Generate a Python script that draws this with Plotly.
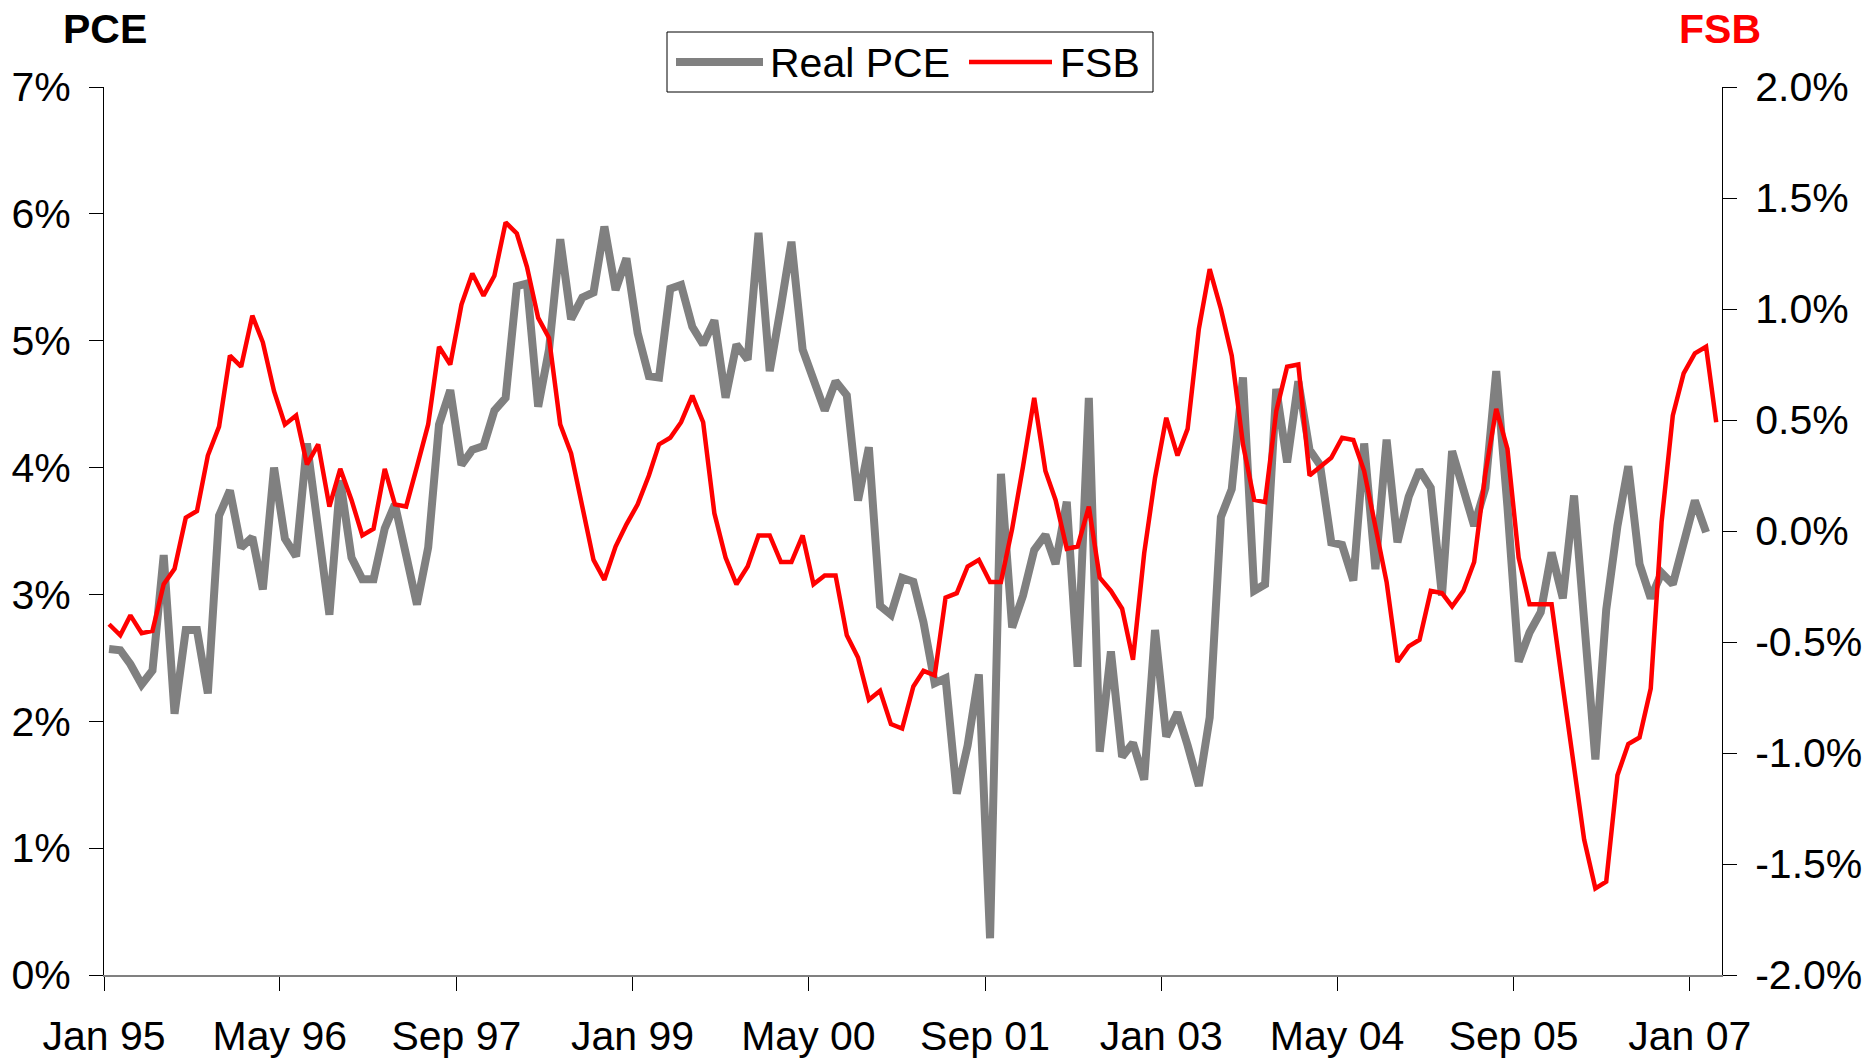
import pandas as pd
import plotly.graph_objects as go

# ---------------- data (monthly, Jan 1995 onwards) ----------------
start_month = "1995-01-01"

real_pce = [
    2.57, 2.56, 2.45, 2.29, 2.40, 3.31, 2.06, 2.72, 2.72, 2.22,
    3.62, 3.82, 3.37, 3.45, 3.04, 4.00, 3.44, 3.30, 4.19, 3.54,
    2.84, 3.90, 3.29, 3.12, 3.12, 3.52, 3.71, 3.31, 2.92, 3.37,
    4.34, 4.61, 4.02, 4.14, 4.17, 4.45, 4.55, 5.43, 5.45, 4.48,
    4.93, 5.80, 5.17, 5.34, 5.38, 5.90, 5.40, 5.65, 5.06, 4.72,
    4.71, 5.41, 5.44, 5.11, 4.97, 5.16, 4.55, 4.97, 4.85, 5.85,
    4.76, 5.27, 5.78, 4.93, 4.69, 4.45, 4.68, 4.57, 3.74, 4.16,
    2.91, 2.84, 3.13, 3.10, 2.78, 2.30, 2.34, 1.43, 1.81, 2.37,
    0.29, 3.95, 2.74, 2.99, 3.35, 3.47, 3.24, 3.73, 2.43, 4.55,
    1.76, 2.55, 1.72, 1.83, 1.54, 2.72, 1.88, 2.07, 1.81, 1.49,
    2.03, 3.61, 3.83, 4.71, 3.03, 3.08, 4.62, 4.04, 4.68, 4.14,
    4.02, 3.41, 3.39, 3.11, 4.19, 3.20, 4.22, 3.41, 3.77, 3.98,
    3.84, 2.99, 4.13, 3.83, 3.54, 3.84, 4.76, 3.69, 2.47, 2.70,
    2.86, 3.33, 2.97, 3.78, 2.71, 1.70, 2.88, 3.54, 4.01, 3.24,
    2.97, 3.17, 3.08, 3.43, 3.74, 3.49,
]

fsb = [
    -0.42, -0.47, -0.38, -0.46, -0.45, -0.24, -0.17, 0.06, 0.09, 0.34,
    0.47, 0.79, 0.74, 0.97, 0.85, 0.63, 0.48, 0.52, 0.30, 0.39,
    0.11, 0.28, 0.14, -0.02, 0.01, 0.28, 0.12, 0.11, 0.29, 0.48,
    0.83, 0.75, 1.02, 1.16, 1.06, 1.15, 1.39, 1.34, 1.19, 0.96,
    0.87, 0.48, 0.35, 0.12, -0.13, -0.22, -0.07, 0.03, 0.12, 0.25,
    0.39, 0.42, 0.49, 0.61, 0.49, 0.08, -0.12, -0.24, -0.16, -0.02,
    -0.02, -0.14, -0.14, -0.02, -0.24, -0.20, -0.20, -0.47, -0.57, -0.76,
    -0.72, -0.87, -0.89, -0.70, -0.63, -0.65, -0.30, -0.28, -0.16, -0.13,
    -0.23, -0.23, 0.01, 0.29, 0.60, 0.27, 0.14, -0.08, -0.07, 0.11,
    -0.21, -0.27, -0.35, -0.58, -0.10, 0.24, 0.51, 0.34, 0.46, 0.91,
    1.18, 1.00, 0.79, 0.39, 0.14, 0.13, 0.54, 0.74, 0.75, 0.25,
    0.29, 0.33, 0.42, 0.41, 0.27, 0.02, -0.23, -0.59, -0.52, -0.49,
    -0.27, -0.28, -0.34, -0.27, -0.14, 0.26, 0.55, 0.37, -0.12, -0.33,
    -0.33, -0.33, -0.70, -1.05, -1.39, -1.61, -1.58, -1.10, -0.96, -0.93,
    -0.71, 0.04, 0.52, 0.71, 0.80, 0.83, 0.49,
]

x_tick_dates = ["1995-01-01", "1996-05-01", "1997-09-01", "1999-01-01", "2000-05-01",
                "2001-09-01", "2003-01-01", "2004-05-01", "2005-09-01", "2007-01-01"]
x_tick_labels = ["Jan 95", "May 96", "Sep 97", "Jan 99", "May 00",
                 "Sep 01", "Jan 03", "May 04", "Sep 05", "Jan 07"]

left_tick_vals = [0, 1, 2, 3, 4, 5, 6, 7]
left_tick_labels = ["0%", "1%", "2%", "3%", "4%", "5%", "6%", "7%"]
right_tick_vals = [-2.0, -1.5, -1.0, -0.5, 0.0, 0.5, 1.0, 1.5, 2.0]
right_tick_labels = ["-2.0%", "-1.5%", "-1.0%", "-0.5%", "0.0%", "0.5%", "1.0%", "1.5%", "2.0%"]

# points plotted mid-month
months_pce = pd.date_range(start_month, periods=len(real_pce), freq="MS") + pd.Timedelta(days=14)
months_fsb = pd.date_range(start_month, periods=len(fsb), freq="MS") + pd.Timedelta(days=14)

# ---------------- layout geometry ----------------
W, H = 1869, 1060
L, R, T, B = 104, 147, 87, 85
FONT = "Liberation Sans, Arial, sans-serif"
FS = 41


def px_x(px):
    return (px - L) / (W - L - R)


def px_y(py):
    return (H - B - py) / (H - T - B)


fig = go.Figure()
fig.add_trace(go.Scatter(
    x=months_pce, y=real_pce, name="Real PCE", mode="lines",
    line=dict(color="#808080", width=8), yaxis="y", showlegend=False,
))
fig.add_trace(go.Scatter(
    x=months_fsb, y=fsb, name="FSB", mode="lines",
    line=dict(color="#FF0000", width=4.5), yaxis="y2", showlegend=False,
))

axis_font = dict(family=FONT, size=FS, color="black")

fig.update_layout(
    width=W, height=H,
    margin=dict(l=L, r=R, t=T, b=B, pad=0, autoexpand=False),
    paper_bgcolor="white", plot_bgcolor="white",
    font=axis_font,
    showlegend=False,
    xaxis=dict(
        type="date", range=["1995-01-01", "2007-03-31"],
        tickvals=x_tick_dates, ticktext=x_tick_labels,
        ticks="outside", ticklen=14, tickwidth=1, tickcolor="black",
        showline=True, linecolor="#808080", linewidth=2,
        showgrid=False, zeroline=False, tickfont=axis_font,
        ticklabelstandoff=10, automargin=False,
    ),
    yaxis=dict(
        range=[0, 7], tickvals=left_tick_vals, ticktext=left_tick_labels,
        ticks="outside", ticklen=14, tickwidth=1, tickcolor="black",
        showline=True, linecolor="black", linewidth=1,
        showgrid=False, zeroline=False, tickfont=axis_font,
        ticklabelstandoff=10, automargin=False,
    ),
    yaxis2=dict(
        range=[-2, 2], tickvals=right_tick_vals, ticktext=right_tick_labels,
        overlaying="y", side="right", anchor="x",
        ticks="outside", ticklen=14, tickwidth=1, tickcolor="black",
        showline=True, linecolor="black", linewidth=1,
        showgrid=False, zeroline=False, tickfont=axis_font,
        ticklabelstandoff=10, automargin=False,
    ),
)

# axis titles above the axes
fig.add_annotation(text="<b>PCE</b>", xref="paper", yref="paper",
                   x=px_x(105), y=px_y(29), xanchor="center", yanchor="middle",
                   showarrow=False, font=dict(family=FONT, size=FS, color="black"))
fig.add_annotation(text="<b>FSB</b>", xref="paper", yref="paper",
                   x=px_x(1720), y=px_y(29), xanchor="center", yanchor="middle",
                   showarrow=False, font=dict(family=FONT, size=FS, color="#FF0000"))

# legend (drawn by hand to match the long line samples)
fig.add_shape(type="rect", xref="paper", yref="paper",
              x0=px_x(667), x1=px_x(1153), y0=px_y(92), y1=px_y(32),
              line=dict(color="black", width=1), fillcolor="white")
fig.add_shape(type="line", xref="paper", yref="paper",
              x0=px_x(676), x1=px_x(763), y0=px_y(62), y1=px_y(62),
              line=dict(color="#808080", width=8))
fig.add_shape(type="line", xref="paper", yref="paper",
              x0=px_x(969), x1=px_x(1052), y0=px_y(62), y1=px_y(62),
              line=dict(color="#FF0000", width=4.5))
fig.add_annotation(text="Real PCE", xref="paper", yref="paper",
                   x=px_x(768), y=px_y(63), xanchor="left", yanchor="middle",
                   showarrow=False, font=dict(family=FONT, size=FS, color="black"))
fig.add_annotation(text="FSB", xref="paper", yref="paper",
                   x=px_x(1058), y=px_y(63), xanchor="left", yanchor="middle",
                   showarrow=False, font=dict(family=FONT, size=FS, color="black"))

fig.write_html("out.html", config={"displayModeBar": False})

# remove the default page margin so the figure sits at the window origin
with open("out.html", "r", encoding="utf-8") as f:
    html = f.read()
html = html.replace("<head>", "<head><style>html,body{margin:0;padding:0;overflow:hidden;}</style>", 1)
with open("out.html", "w", encoding="utf-8") as f:
    f.write(html)
